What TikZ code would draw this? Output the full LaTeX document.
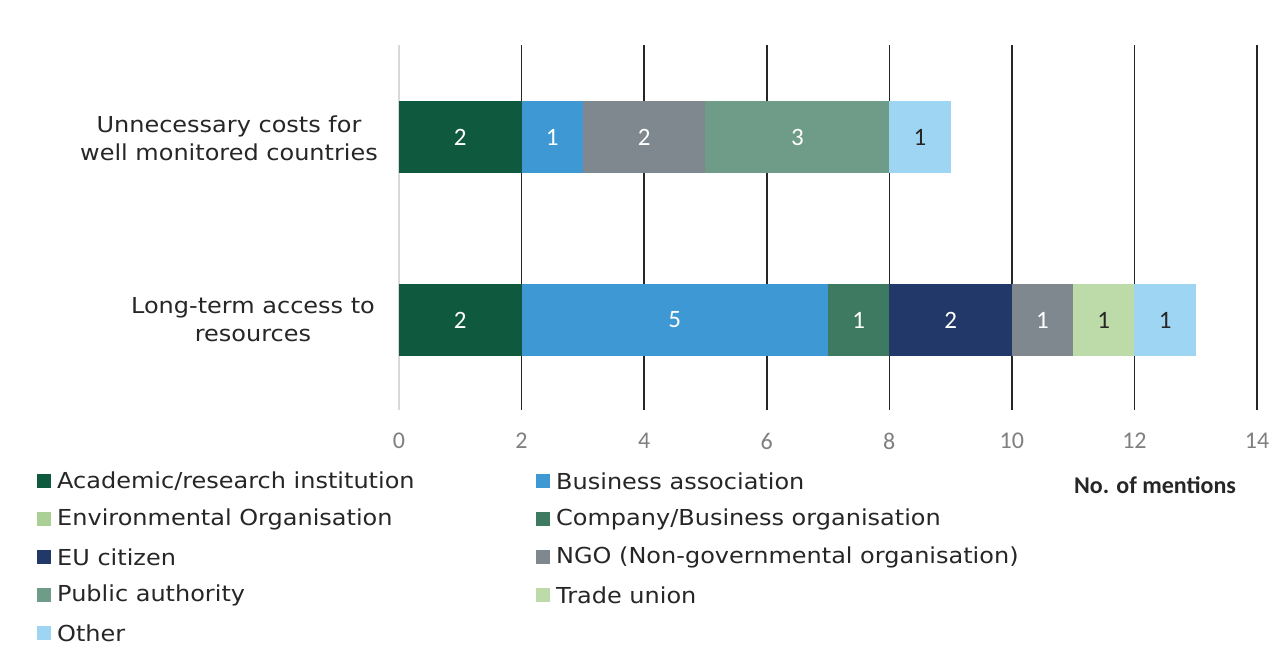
\documentclass[tikz,border=0pt]{standalone}
\usepackage{fontspec}
\setmainfont[FakeStretch=1.09]{DejaVu Sans}
\newfontfamily\calib{Carlito}
\definecolor{cAcad}{HTML}{0F5A3E}
\definecolor{cBus}{HTML}{3D98D3}
\definecolor{cEnv}{HTML}{ABD095}
\definecolor{cComp}{HTML}{3E7A61}
\definecolor{cEU}{HTML}{213868}
\definecolor{cNGO}{HTML}{7F888E}
\definecolor{cPub}{HTML}{6E9C88}
\definecolor{cTrade}{HTML}{BDDBA8}
\definecolor{cOther}{HTML}{9DD5F2}
\definecolor{cText}{HTML}{262626}
\definecolor{cTick}{HTML}{7F7F7F}
\tikzset{
  gridline/.style={draw=cText, line width=1.6pt},
  axisline/.style={draw=black!15, line width=1.6pt},
  barlbl/.style={font=\calib\fontsize{25}{25}\selectfont, text=white, inner sep=0pt},
  ticklbl/.style={font=\calib\fontsize{24}{24}\selectfont, text=cTick, inner sep=0pt},
  catlbl/.style={font=\fontsize{22}{28}\selectfont, text=cText, align=center, inner sep=0pt},
  leglbl/.style={font=\fontsize{22}{22}\selectfont, text=cText, anchor=west, inner sep=0pt},
  legbox/.style={minimum width=13.5pt, minimum height=13.5pt, inner sep=0pt, draw=none},
}
\newcommand\barseg[8]{%
  \fill[#6] ({399+#4*61.286},#2) rectangle ({399+#5*61.286},#3);
  \node[barlbl,text=#8] (#1) at ({399+(#4+#5)/2*61.286},{(#2+#3)/2}) {#7};}
\begin{document}
\begin{tikzpicture}[x=1pt,y=-1pt]
\useasboundingbox (0,0) rectangle (1279,646);
% grid
\coordinate (g0a) at (399,45); \coordinate (g0b) at (399,410);
\draw[axisline] (g0a) -- (g0b);
\foreach \v in {2,4,...,14}{
  \coordinate (ga\v) at ({399+\v*61.286},45);
  \coordinate (gb\v) at ({399+\v*61.286},410);
  \draw[gridline] (ga\v) -- (gb\v);
}
\foreach \v in {0,2,...,14}{
  \node[ticklbl] (t\v) at ({399+\v*61.286},441) {\v};
}
% top bar
\barseg{a1}{101}{173}{0}{2}{cAcad}{2}{white}
\barseg{a2}{101}{173}{2}{3}{cBus}{1}{white}
\barseg{a3}{101}{173}{3}{5}{cNGO}{2}{white}
\barseg{a4}{101}{173}{5}{8}{cPub}{3}{white}
\barseg{a5}{101}{173}{8}{9}{cOther}{1}{cText}
% bottom bar
\barseg{b1}{284}{356}{0}{2}{cAcad}{2}{white}
\barseg{b2}{284}{356}{2}{7}{cBus}{5}{white}
\barseg{b3}{284}{356}{7}{8}{cComp}{1}{white}
\barseg{b4}{284}{356}{8}{10}{cEU}{2}{white}
\barseg{b5}{284}{356}{10}{11}{cNGO}{1}{white}
\barseg{b6}{284}{356}{11}{12}{cTrade}{1}{cText}
\barseg{b7}{284}{356}{12}{13}{cOther}{1}{cText}
% category labels
\node[catlbl] (c1) at (229,138) {Unnecessary costs for\\well monitored countries};
\node[catlbl] (c2) at (253,320) {Long-term access to\\resources};
% axis title
\node[font=\calib\bfseries\fontsize{24}{24}\selectfont, text=cText, inner sep=0pt] (xt) at (1155,485) {No. of mentions};
% legend
\foreach \nm/\col/\lbl/\xx/\yy in {
  l1/cAcad/{Academic/research institution}/37/481,
  l2/cBus/{Business association}/536/481,
  l3/cEnv/{Environmental Organisation}/37/519,
  l4/cComp/{Company/Business organisation}/536/519,
  l5/cEU/{EU citizen}/37/557,
  l6/cNGO/{NGO (Non-governmental organisation)}/536/557,
  l7/cPub/{Public authority}/37/595,
  l8/cTrade/{Trade union}/536/595,
  l9/cOther/{Other}/37/633}{
  \node[legbox, fill=\col, anchor=west] (\nm box) at (\xx,\yy) {};
  \node[leglbl] (\nm) at ({\xx+20},\yy) {\lbl};
}
\end{tikzpicture}
\end{document}
